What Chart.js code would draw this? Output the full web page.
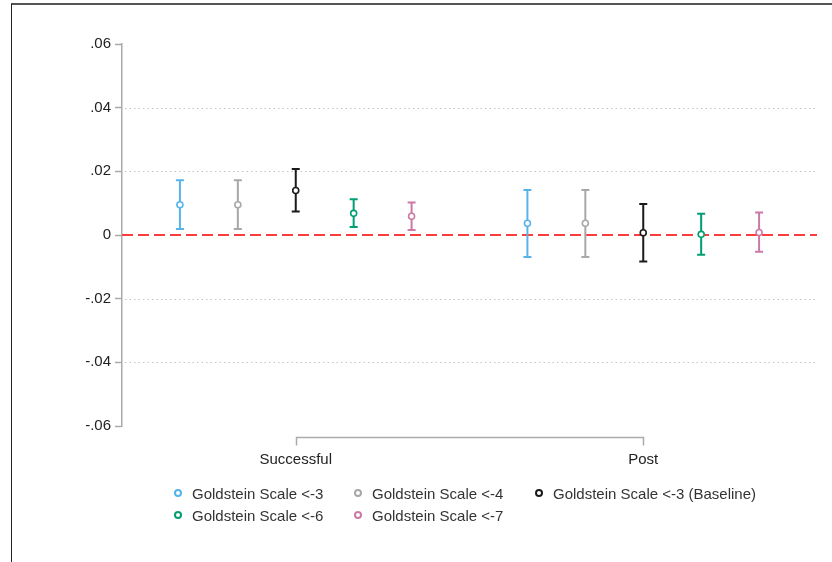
<!DOCTYPE html>
<html>
<head>
<meta charset="utf-8">
<script src="https://cdn.jsdelivr.net/npm/chart.js@4.4.1/dist/chart.umd.min.js"></script>
<style>
  html, body { margin: 0; padding: 0; background: #fff; }
  #wrap { position: relative; width: 832px; height: 562px; overflow: hidden; }
  #frame { position: absolute; left: 11px; top: 3px; right: -5px; bottom: -5px;
           border-top: 2px solid #555; border-left: 1px solid #222; pointer-events: none; }
  #legend { position: absolute; left: 174px; top: 482px; display: grid;
            grid-template-columns: 180px 181px auto; grid-auto-rows: 22px;
            font: 15px "Liberation Sans", Arial, sans-serif; color: #333; }
  .item { display: flex; align-items: center; white-space: nowrap; }
  .dot { width: 4px; height: 4px; border: 2px solid; border-radius: 50%;
         margin-right: 10px; background: #fff; }
</style>
</head>
<body>
<div id="wrap">
  <canvas id="c" width="832" height="562"></canvas>
  <div id="frame"></div>
  <div id="legend"></div>
</div>
<script>
// Groups on the x axis
const categories = ['Successful', 'Post'];

// Series names and colours
const seriesNames = [
  'Goldstein Scale <-3',
  'Goldstein Scale <-4',
  'Goldstein Scale <-3 (Baseline)',
  'Goldstein Scale <-6',
  'Goldstein Scale <-7'
];
const seriesColors = ['#56B4E9', '#A8A8A8', '#1a1a1a', '#009E73', '#CC79A7'];

// Point estimates and confidence bounds per group (Successful, Post)
const estGs3 = [0.0095, 0.0037];
const loGs3  = [0.0019, -0.0069];
const hiGs3  = [0.0172, 0.0141];

const estGs4 = [0.0095, 0.0037];
const loGs4  = [0.0019, -0.0069];
const hiGs4  = [0.0172, 0.0141];

const estBase = [0.0140, 0.0007];
const loBase  = [0.0074, -0.0083];
const hiBase  = [0.0207, 0.0097];

const estGs6 = [0.0068, 0.0002];
const loGs6  = [0.0025, -0.0062];
const hiGs6  = [0.0112, 0.0067];

const estGs7 = [0.0059, 0.0008];
const loGs7  = [0.0016, -0.0053];
const hiGs7  = [0.0102, 0.0071];

// Y axis ticks
const yTickValues = [0.06, 0.04, 0.02, 0, -0.02, -0.04, -0.06];
const yTickLabels = ['.06', '.04', '.02', '0', '-.02', '-.04', '-.06'];

// Reference line
const refValue = 0;

const estimates = [estGs3, estGs4, estBase, estGs6, estGs7];
const lowers = [loGs3, loGs4, loBase, loGs6, loGs7];
const uppers = [hiGs3, hiGs4, hiBase, hiGs6, hiGs7];

const FONT = '"Liberation Sans", Arial, sans-serif';
const dodge = 1 / 6;
const nSeries = seriesNames.length;

const pointSets = seriesNames.map((name, i) => ({
  label: name,
  data: categories.map((c, j) => ({ x: j + 1 + (i - (nSeries - 1) / 2) * dodge, y: estimates[i][j] })),
  errLo: lowers[i],
  errHi: uppers[i],
  borderColor: seriesColors[i],
  backgroundColor: '#fff',
  pointRadius: 3,
  pointBorderWidth: 1.6,
  pointHoverRadius: 3,
  showLine: false,
  order: 1
}));

const refSet = {
  label: 'ref',
  data: [{ x: 0.5, y: refValue }, { x: categories.length + 0.5, y: refValue }],
  showLine: true,
  borderColor: 'rgb(255,60,60)',
  borderWidth: 2,
  borderDash: [11, 5],
  pointRadius: 0,
  order: 10
};

// Dotted horizontal guides at the interior y ticks
const gridPlugin = {
  id: 'dottedGrid',
  beforeDatasetsDraw(chart) {
    const { ctx, chartArea, scales: { y } } = chart;
    ctx.save();
    ctx.strokeStyle = '#c4c4c4';
    ctx.lineWidth = 1;
    ctx.setLineDash([1.5, 3]);
    yTickValues.forEach(v => {
      if (v === y.min || v === y.max || v === refValue) return;
      const py = Math.round(y.getPixelForValue(v)) + 0.5;
      ctx.beginPath();
      ctx.moveTo(chartArea.left + 3, py);
      ctx.lineTo(chartArea.right, py);
      ctx.stroke();
    });
    ctx.restore();
  }
};

// Vertical confidence intervals with caps, drawn under each series' markers
const errorBarPlugin = {
  id: 'errorBars',
  beforeDatasetDraw(chart, args) {
    const ds = chart.data.datasets[args.index];
    if (!ds.errLo) return;
    const { ctx, scales: { y } } = chart;
    const cap = 4;
    ctx.save();
    ctx.strokeStyle = ds.borderColor;
    ctx.lineWidth = 2;
    ctx.setLineDash([]);
    args.meta.data.forEach((pt, j) => {
      const x = pt.x;
      const yl = y.getPixelForValue(ds.errLo[j]);
      const yh = y.getPixelForValue(ds.errHi[j]);
      ctx.beginPath();
      ctx.moveTo(x, yl); ctx.lineTo(x, yh);
      ctx.moveTo(x - cap, yl); ctx.lineTo(x + cap, yl);
      ctx.moveTo(x - cap, yh); ctx.lineTo(x + cap, yh);
      ctx.stroke();
    });
    ctx.restore();
  }
};

// Bracket spanning the category positions below the plot
const bracketPlugin = {
  id: 'bracket',
  afterDraw(chart) {
    const { ctx, chartArea, scales: { x } } = chart;
    const top = chartArea.bottom + 11.5;
    const x1 = Math.round(x.getPixelForValue(1)) + 0.5;
    const x2 = Math.round(x.getPixelForValue(categories.length)) + 0.5;
    ctx.save();
    ctx.strokeStyle = '#aaa';
    ctx.lineWidth = 1.5;
    ctx.beginPath();
    ctx.moveTo(x1, top + 8);
    ctx.lineTo(x1, top);
    ctx.lineTo(x2, top);
    ctx.lineTo(x2, top + 8);
    ctx.stroke();
    ctx.restore();
  }
};

new Chart(document.getElementById('c'), {
  type: 'scatter',
  data: { datasets: [refSet, ...pointSets] },
  options: {
    responsive: false,
    animation: false,
    devicePixelRatio: 1,
    layout: { padding: { left: 12, right: 15, top: 44, bottom: 86 } },
    plugins: { legend: { display: false }, tooltip: { enabled: false } },
    scales: {
      x: {
        type: 'linear',
        min: 0.5,
        max: categories.length + 0.5,
        grid: { display: false, drawTicks: false },
        border: { display: false },
        afterBuildTicks: s => { s.ticks = categories.map((c, i) => ({ value: i + 1 })); },
        afterFit: s => { s.height = 50; },
        ticks: {
          padding: 25,
          color: '#222',
          font: { family: FONT, size: 15 },
          maxRotation: 0,
          autoSkip: false,
          callback: v => categories[Math.round(v) - 1]
        }
      },
      y: {
        min: -0.06,
        max: 0.06,
        afterBuildTicks: s => { s.ticks = yTickValues.map(v => ({ value: v })); },
        afterFit: s => { s.width = 110; },
        grid: { drawOnChartArea: false, drawTicks: true, tickLength: 7, tickColor: '#aaa', tickWidth: 1.5 },
        border: { display: true, color: '#aaa', width: 1.5 },
        ticks: {
          padding: 4,
          color: '#222',
          font: { family: FONT, size: 15 },
          autoSkip: false,
          callback: v => {
            const k = yTickValues.findIndex(t => Math.abs(t - v) < 1e-9);
            return k >= 0 ? yTickLabels[k] : '';
          }
        }
      }
    }
  },
  plugins: [gridPlugin, errorBarPlugin, bracketPlugin]
});

// Legend laid out in three columns, filled row by row
const legend = document.getElementById('legend');
seriesNames.forEach((name, i) => {
  const item = document.createElement('div');
  item.className = 'item';
  const dot = document.createElement('span');
  dot.className = 'dot';
  dot.style.borderColor = seriesColors[i];
  const txt = document.createElement('span');
  txt.textContent = name;
  item.appendChild(dot);
  item.appendChild(txt);
  legend.appendChild(item);
});
</script>
</body>
</html>
